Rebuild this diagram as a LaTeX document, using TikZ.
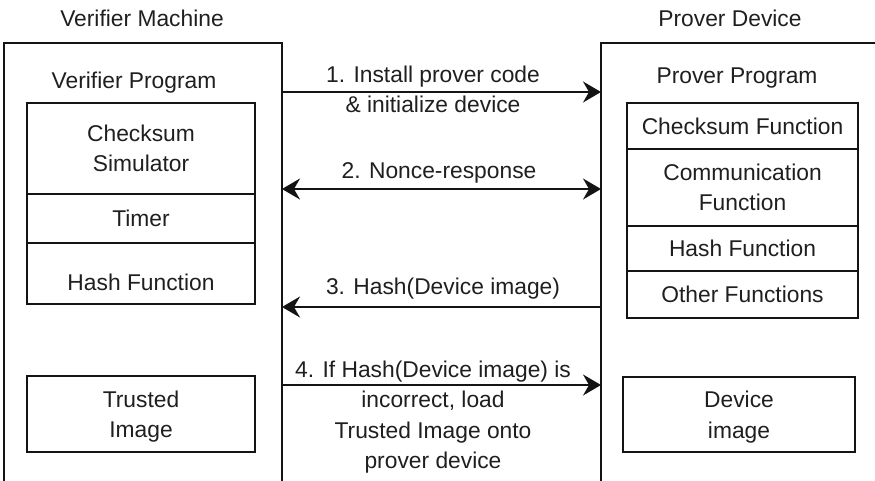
\documentclass[tikz,border=0pt]{standalone}
\usepackage{fontspec}
\setmainfont{Liberation Sans}
\usetikzlibrary{arrows.meta}
\begin{document}
\begin{tikzpicture}[x=1pt,y=-1pt,
  every node/.style={font=\fontsize{22.8}{30.5}\selectfont, text=black!88, inner sep=0pt, outer sep=0pt},
  frame/.style={draw=black!92, line width=1.8pt, anchor=north west},
  cell/.style={draw=black!92, line width=1.8pt, anchor=north west, align=center},
  lcell/.style={cell, minimum width=228pt},
  rcell/.style={cell, minimum width=231pt},
  msg/.style={draw=black!92, line width=1.8pt},
  >={Stealth[length=18pt,width=21pt,inset=6pt]},
]
\useasboundingbox (0,0) rectangle (875,480);
\clip (0,0) rectangle (875,480);

% machines (their lower and right sides run past the page)
\node[frame, minimum width=278pt, minimum height=470pt] (vm) at (4,43) {};
\node[frame, minimum width=290pt, minimum height=470pt] (pd) at (601,43) {};
\node[anchor=base] (vmt) at (142,26) {Verifier Machine};
\node[anchor=base] (pdt) at (730,26) {Prover Device};

% verifier side
\node[anchor=base] (vprog) at (134,88) {Verifier Program};
\node[lcell, minimum height=91pt] (csim) at (27,103) {Checksum\\Simulator};
\node[lcell, minimum height=49pt] (timer) at (csim.south west) {Timer};
\node[lcell, minimum height=61pt] (vhash) at (timer.south west) {};
\node[anchor=base] (vhasht) at (141,290) {Hash Function};
\node[lcell, minimum height=76pt, text depth=0pt] (trust) at (27,376) {Trusted\\Image};

% prover side
\node[anchor=base] (pprog) at (737,83) {Prover Program};
\node[rcell, minimum height=46pt] (cfun) at (627,103) {Checksum Function};
\node[rcell, minimum height=77pt] (comm) at (cfun.south west) {Communication\\Function};
\node[rcell, minimum height=45pt] (phash) at (comm.south west) {Hash Function};
\node[rcell, minimum height=47pt] (other) at (phash.south west) {Other Functions};
\node[cell, minimum width=232pt, minimum height=75pt, text depth=0pt] (dimg) at (623,377) {Device\\image};

% messages
\coordinate (m1) at (0,92);
\coordinate (m2) at (0,189);
\coordinate (m3) at (0,307);
\coordinate (m4) at (0,385);
\draw[msg, ->] (vm.east |- m1) -- (pd.west |- m1);
\draw[msg, <->] (vm.east |- m2) -- (pd.west |- m2);
\draw[msg, ->] (pd.west |- m3) -- (vm.east |- m3);
\draw[msg, ->] (vm.east |- m4) -- (pd.west |- m4);

\node[align=center] (l1) at (433,89.5) {1. Install prover code\\\& initialize device};
\node[anchor=base] (l2) at (439,178) {2. Nonce-response};
\node[anchor=base] (l3) at (443,294) {3. Hash(Device image)};
\node[align=center] (l4) at (433,417) {4. If Hash(Device image) is\\incorrect, load\\Trusted Image onto\\prover device};
\end{tikzpicture}
\end{document}
